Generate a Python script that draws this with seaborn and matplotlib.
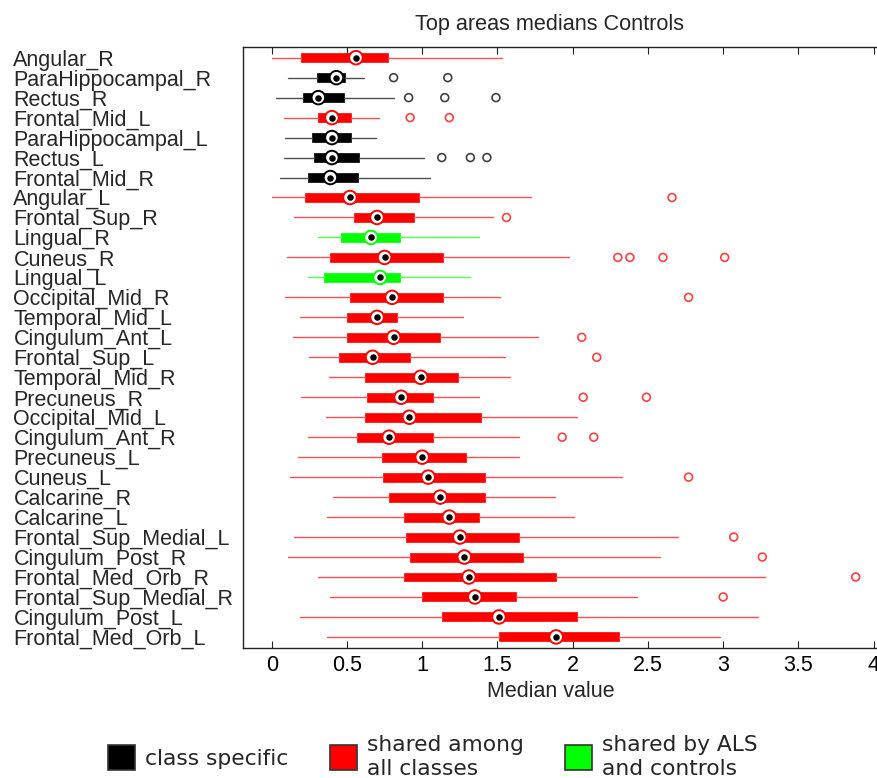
import numpy as np
import pandas as pd
import seaborn as sns
from matplotlib import pyplot as plt
from matplotlib.patches import Patch

# Regions, top to bottom
regions = ['Angular_R', 'ParaHippocampal_R', 'Rectus_R', 'Frontal_Mid_L', 'ParaHippocampal_L',
           'Rectus_L', 'Frontal_Mid_R', 'Angular_L', 'Frontal_Sup_R', 'Lingual_R',
           'Cuneus_R', 'Lingual_L', 'Occipital_Mid_R', 'Temporal_Mid_L', 'Cingulum_Ant_L',
           'Frontal_Sup_L', 'Temporal_Mid_R', 'Precuneus_R', 'Occipital_Mid_L', 'Cingulum_Ant_R',
           'Precuneus_L', 'Cuneus_L', 'Calcarine_R', 'Calcarine_L', 'Frontal_Sup_Medial_L',
           'Cingulum_Post_R', 'Frontal_Med_Orb_R', 'Frontal_Sup_Medial_R', 'Cingulum_Post_L',
           'Frontal_Med_Orb_L']
group = ['shared', 'specific', 'specific', 'shared', 'specific',
         'specific', 'specific', 'shared', 'shared', 'als_ctrl',
         'shared', 'als_ctrl', 'shared', 'shared', 'shared',
         'shared', 'shared', 'shared', 'shared', 'shared',
         'shared', 'shared', 'shared', 'shared', 'shared',
         'shared', 'shared', 'shared', 'shared', 'shared']

# box statistics
whislo = [0.00, 0.11, 0.03, 0.08, 0.09, 0.08, 0.055, 0.00, 0.15, 0.31,
          0.10, 0.24, 0.09, 0.19, 0.14, 0.25, 0.38, 0.195, 0.36, 0.24,
          0.175, 0.12, 0.41, 0.37, 0.15, 0.11, 0.31, 0.39, 0.19, 0.37]
q1 = [0.195, 0.30, 0.21, 0.31, 0.27, 0.28, 0.24, 0.22, 0.55, 0.46,
      0.39, 0.35, 0.52, 0.50, 0.50, 0.45, 0.62, 0.63, 0.62, 0.565,
      0.73, 0.74, 0.78, 0.88, 0.89, 0.92, 0.88, 1.00, 1.13, 1.51]
med = [0.56, 0.43, 0.31, 0.40, 0.40, 0.40, 0.39, 0.52, 0.70, 0.66,
       0.75, 0.72, 0.80, 0.70, 0.81, 0.67, 0.99, 0.86, 0.915, 0.78,
       1.00, 1.04, 1.12, 1.18, 1.25, 1.28, 1.31, 1.35, 1.51, 1.89]
q3 = [0.77, 0.49, 0.48, 0.53, 0.53, 0.58, 0.575, 0.98, 0.945, 0.85,
      1.14, 0.85, 1.14, 0.835, 1.12, 0.92, 1.24, 1.07, 1.39, 1.07,
      1.29, 1.42, 1.42, 1.38, 1.64, 1.67, 1.89, 1.62, 2.03, 2.31]
whishi = [1.53, 0.61, 0.81, 0.71, 0.69, 1.01, 1.05, 1.72, 1.47, 1.38,
          1.975, 1.32, 1.52, 1.27, 1.77, 1.55, 1.585, 1.38, 2.03, 1.64,
          1.64, 2.33, 1.88, 2.01, 2.70, 2.58, 3.28, 2.43, 3.23, 2.98]
outliers = [[], [0.81, 1.17], [0.91, 1.15, 1.49], [0.92, 1.18], [],
            [1.13, 1.32, 1.43], [], [2.66], [1.56], [],
            [2.30, 2.38, 2.60, 3.01], [], [2.77], [], [2.06],
            [2.16], [], [2.07, 2.49], [], [1.93, 2.14],
            [], [2.77], [], [], [3.07],
            [3.26], [3.88], [3.00], [], []]

xticks = [0, 0.5, 1, 1.5, 2, 2.5, 3, 3.5, 4]
xtick_labels = ['0', '0.5', '1', '1.5', '2', '2.5', '3', '3.5', '4']
legend_labels = ['class specific', 'shared among\nall classes', 'shared by ALS\nand controls']

box_col = {'specific': '#000000', 'shared': '#ff0000', 'als_ctrl': '#00ff00'}
line_col = {'specific': '#505050', 'shared': '#ff5050', 'als_ctrl': '#50ff50'}
out_col = {'specific': '#404040', 'shared': '#ff4040', 'als_ctrl': '#40ff40'}

sns.set_style('white')
plt.rcParams['font.family'] = ['Liberation Sans', 'DejaVu Sans']

W, H = 877, 778
fig = plt.figure(figsize=(W / 100, H / 100), dpi=100)
ax = fig.add_axes([243.3 / W, 129.7 / H, 634 / W, 601.6 / H])

pos = np.arange(len(regions))
stats = [dict(med=med[i], q1=q1[i], q3=q3[i], whislo=whislo[i], whishi=whishi[i], fliers=[])
         for i in pos]
bp = ax.bxp(stats, positions=pos, widths=0.45, orientation='horizontal', patch_artist=True,
            showcaps=False, showfliers=False, manage_ticks=False,
            medianprops=dict(visible=False), whiskerprops=dict(linewidth=1.0))
for i, g in enumerate(group):
    bp['boxes'][i].set_facecolor(box_col[g])
    bp['boxes'][i].set_edgecolor(box_col[g])
    bp['boxes'][i].set_linewidth(0.5)
    for w in bp['whiskers'][2 * i:2 * i + 2]:
        w.set_color(line_col[g])

# outliers (hollow circles)
out_df = pd.DataFrame([(v, i, group[i]) for i, vals in enumerate(outliers) for v in vals],
                      columns=['value', 'row', 'group'])
sns.scatterplot(data=out_df, x='value', y='row', hue='group', palette=out_col, s=32,
                legend=False, ax=ax, zorder=3)
pts = ax.collections[-1]
ec = pts.get_facecolors()
pts.set_facecolors('none')
pts.set_edgecolors(ec)
pts.set_linewidths(1.2)

# median markers: white ring + black dot
med_df = pd.DataFrame({'value': med, 'row': pos, 'group': group})
sns.scatterplot(data=med_df, x='value', y='row', hue='group', palette=box_col, s=95,
                legend=False, ax=ax, zorder=4)
rings = ax.collections[-1]
ec = rings.get_facecolors()
rings.set_facecolors('white')
rings.set_edgecolors(ec)
rings.set_linewidths(1.4)
sns.scatterplot(data=med_df, x='value', y='row', color='black', s=22, linewidth=0,
                legend=False, ax=ax, zorder=5)

ax.set_xlim(-0.1887, -0.1887 + 634 / 150.5)
ax.set_ylim(29.57, -0.55)
ax.set_xticks(xticks)
ax.set_xticklabels(xtick_labels, fontsize=15.5)
ax.set_yticks(pos)
ax.set_yticklabels(regions, fontsize=15.5, ha='left')
ax.tick_params(axis='y', length=0, pad=165.5)
ax.tick_params(axis='x', direction='in', length=5, width=0.8, top=True, bottom=True, pad=5,
               colors='#222222', labelcolor='black')
for s in ['left', 'top', 'bottom']:
    ax.spines[s].set_color('#222222')
    ax.spines[s].set_linewidth(1.0)
ax.spines['right'].set_visible(False)
ax.set_xlabel('Median value', fontsize=15.5, labelpad=3)
ax.set_ylabel('')
ax.xaxis.set_label_coords((550.6 - 243.3) / 634, -0.055)
ax.set_title('Top areas medians Controls', fontsize=15.6, x=(549.5 - 243.3) / 634, pad=12)

handles = [Patch(facecolor=box_col[g], edgecolor='#333333', linewidth=1.2)
           for g in ['specific', 'shared', 'als_ctrl']]
fig.legend(handles, legend_labels, loc='center left', bbox_to_anchor=(108 / W, 21 / H),
           ncol=3, frameon=False, prop=dict(family='DejaVu Sans', size=15.7),
           handlelength=1.24, handleheight=1.38, handletextpad=0.46, columnspacing=1.9,
           borderpad=0, borderaxespad=0, labelspacing=0)

fig.savefig('out.png', dpi=100)
